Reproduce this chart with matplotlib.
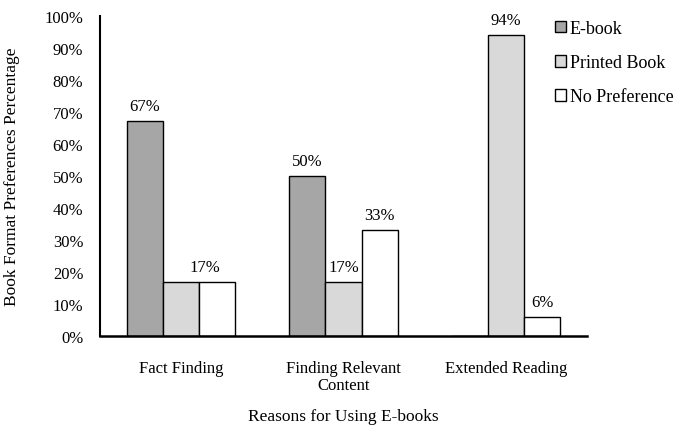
import matplotlib
matplotlib.use("Agg")
import matplotlib.pyplot as plt
import numpy as np
from matplotlib.ticker import PercentFormatter, MultipleLocator

categories = ["Fact Finding", "Finding Relevant\nContent", "Extended Reading"]
series_names = ["E-book", "Printed Book", "No Preference"]
ebook = [67, 50, 0]
printed = [17, 17, 94]
nopref = [17, 33, 6]
colors = ["#a6a6a6", "#d9d9d9", "#ffffff"]

# labels shown: (series index, category index, text)
labels = [(0, 0, "67%"), (2, 0, "17%"), (0, 1, "50%"), (1, 1, "17%"), (2, 1, "33%"),
          (1, 2, "94%"), (2, 2, "6%")]

plt.rcParams['font.family'] = ['Liberation Serif', 'DejaVu Serif']

fig = plt.figure(figsize=(6.88, 4.27), dpi=100)
ax = fig.add_axes([0.1453, 0.2108, 0.708, 0.750])

x = np.arange(len(categories))
w = 0.2222
data = [ebook, printed, nopref]
bars = []
for i, (vals, c, name) in enumerate(zip(data, colors, series_names)):
    b = ax.bar(x + (i - 1) * w, vals, w, color=c, edgecolor="black", linewidth=1.0, label=name)
    bars.append(b)

for si, ci, t in labels:
    rect = bars[si][ci]
    dx = -9 if (si == 2 and ci == 0) else 0
    ax.annotate(t, (rect.get_x() + rect.get_width() / 2, rect.get_height()),
                xytext=(dx, 5), textcoords="offset points", ha="center", va="bottom",
                fontsize=12)

ax.set_xlim(-0.5, 2.5)
ax.set_ylim(0, 100)
ax.yaxis.set_major_locator(MultipleLocator(10))
ax.yaxis.set_major_formatter(PercentFormatter(decimals=0))
ax.set_xticks(x)
ax.set_xticklabels(categories, fontsize=12, linespacing=1.15)
ax.tick_params(axis="y", length=0, labelsize=12, pad=12)
ax.tick_params(axis="x", length=0, pad=17)
for s in ["top", "right"]:
    ax.spines[s].set_visible(False)
ax.spines["left"].set_linewidth(1.5)
ax.spines["bottom"].set_linewidth(1.8)

ax.set_ylabel("Book Format Preferences Percentage", fontsize=12.5)
ax.yaxis.set_label_coords(-0.165, 0.5)
ax.set_xlabel("Reasons for Using E-books", fontsize=12.5)
ax.xaxis.set_label_coords(0.5, -0.225)

leg = ax.legend(loc="upper left", bbox_to_anchor=(0.794, 0.972), bbox_transform=fig.transFigure,
                frameon=False, fontsize=13, handlelength=0.6, handleheight=0.6,
                handletextpad=0.2, labelspacing=0.95, borderpad=0)

fig.savefig("out.png", dpi=100)
